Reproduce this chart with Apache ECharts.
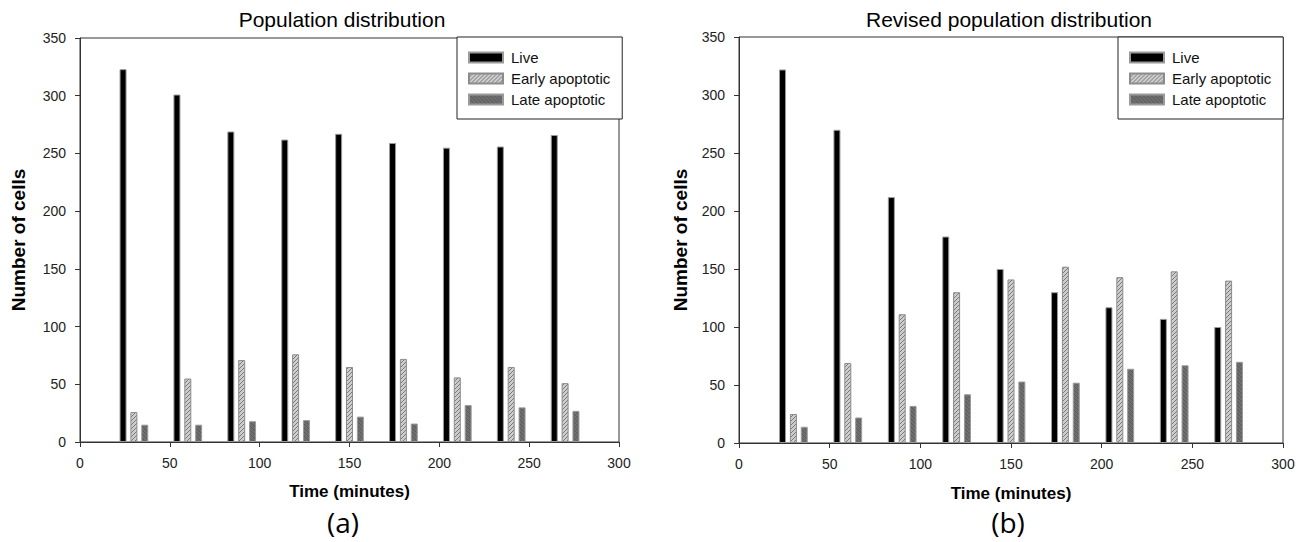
<!DOCTYPE html>
<html>
<head>
<meta charset="utf-8">
<script src="https://cdn.jsdelivr.net/npm/echarts@6/dist/echarts.min.js"></script>
<style>
html,body{margin:0;padding:0;background:#fff;}
#chart{width:1309px;height:542px;}
</style>
</head>
<body>
<div id="chart"></div>
<script>
// ---- data ----
const times = [30, 60, 90, 120, 150, 180, 210, 240, 270];
const seriesNames = ['Live', 'Early apoptotic', 'Late apoptotic'];
const liveA  = [323, 301, 269, 262, 267, 259, 255, 256, 266];
const earlyA = [26, 55, 71, 76, 65, 72, 56, 65, 51];
const lateA  = [15, 15, 18, 19, 22, 16, 32, 30, 27];
const liveB  = [322, 270, 212, 178, 150, 130, 117, 107, 100];
const earlyB = [25, 69, 111, 130, 141, 152, 143, 148, 140];
const lateB  = [14, 22, 32, 42, 53, 52, 64, 67, 70];
const titleA = 'Population distribution';
const titleB = 'Revised population distribution';
const xName = 'Time (minutes)';
const yName = 'Number of cells';
const panelA = '(a)';
const panelB = '(b)';

// ---- hatch patterns ----
function hatch(bg, fg, dir) {
  const c = document.createElement('canvas');
  c.width = 4; c.height = 4;
  const g = c.getContext('2d');
  g.fillStyle = bg; g.fillRect(0, 0, 4, 4);
  g.fillStyle = fg;
  for (let i = 0; i < 4; i++) {
    const x = dir > 0 ? 3 - i : i;
    g.fillRect(x, i, 1, 1);
  }
  return {image: c.toDataURL(), repeat: 'repeat', imageWidth: 4, imageHeight: 4};
}
const earlyFill = hatch('#cdcdcd', '#7a7a7a', 1);
const lateFill = hatch('#6e6e6e', '#5a5a5a', -1);

const font = "'Liberation Sans', Arial, sans-serif";
const styles = [
  {color: '#000', borderColor: '#9a9a9a', borderWidth: 1},
  {color: earlyFill, borderColor: '#8c8c8c', borderWidth: 1},
  {color: lateFill, borderColor: '#9a9a9a', borderWidth: 1}
];

function pairs(vals) { return times.map((t, i) => [t, vals[i]]); }

function makeSeries(idx, sets) {
  return sets.map((vals, k) => ({
    type: 'bar',
    name: seriesNames[k],
    xAxisIndex: idx, yAxisIndex: idx,
    data: pairs(vals),
    barWidth: 7,
    barGap: '55%',
    itemStyle: styles[k],
    emphasis: {disabled: true},
    animation: false
  }));
}

const grids = [
  {left: 80, top: 38, width: 539, height: 404},
  {left: 739, top: 37, width: 544, height: 406}
];

function xAx(i, gap) {
  return {
    type: 'value', gridIndex: i, min: 0, max: 300, interval: 50,
    name: xName, nameLocation: 'middle', nameGap: gap,
    nameTextStyle: {fontFamily: font, fontWeight: 'bold', fontSize: 17, color: '#000'},
    axisLine: {show: true, lineStyle: {color: '#333', width: 1}},
    axisTick: {show: true, length: 5, inside: false, lineStyle: {color: '#333'}},
    axisLabel: {fontFamily: font, fontSize: 14, color: '#222', margin: 14},
    splitLine: {show: false}
  };
}
function yAx(i, gap) {
  return {
    type: 'value', gridIndex: i, min: 0, max: 350, interval: 50,
    name: yName, nameLocation: 'middle', nameGap: gap,
    nameTextStyle: {fontFamily: font, fontWeight: 'bold', fontSize: 19, color: '#000'},
    axisLine: {show: true, lineStyle: {color: '#333', width: 1}},
    axisTick: {show: true, length: 5, inside: false, lineStyle: {color: '#333'}},
    axisLabel: {fontFamily: font, fontSize: 14, color: '#222', margin: 14},
    splitLine: {show: false}
  };
}
function legend(left, top) {
  return {
    orient: 'vertical', left: left, top: top,
    data: seriesNames,
    itemWidth: 34, itemHeight: 10, itemGap: 6,
    padding: [13, 12, 12, 11],
    borderColor: '#222', borderWidth: 1, backgroundColor: '#fff',
    textStyle: {fontFamily: font, fontSize: 15, lineHeight: 15, color: '#111', padding: [0, 0, 0, 3]},
    selectedMode: false,
    icon: 'rect'
  };
}

const chart = echarts.init(document.getElementById('chart'), null, {renderer: 'svg'});
chart.setOption({
  animation: false,
  backgroundColor: '#fff',
  grid: grids.map(g => Object.assign({show: true, borderColor: '#333', borderWidth: 1, backgroundColor: 'transparent'}, g)),
  xAxis: [xAx(0, 41), xAx(1, 42)],
  yAxis: [yAx(0, 52), yAx(1, 49)],
  legend: [legend(457, 37), legend(1118, 37)],
  graphic: [
    {type: 'text', x: 342, y: 19, style: {text: titleA, font: "21px 'Liberation Sans', Arial, sans-serif", fill: '#000', textAlign: 'center', textVerticalAlign: 'middle'}},
    {type: 'text', x: 1009, y: 19, style: {text: titleB, font: "21px 'Liberation Sans', Arial, sans-serif", fill: '#000', textAlign: 'center', textVerticalAlign: 'middle'}},
    {type: 'text', x: 343, y: 522, style: {text: panelA, font: "28px 'Open Sans', sans-serif", fill: '#000', textAlign: 'center', textVerticalAlign: 'middle'}},
    {type: 'text', x: 1008, y: 522, style: {text: panelB, font: "28px 'Open Sans', sans-serif", fill: '#000', textAlign: 'center', textVerticalAlign: 'middle'}}
  ],
  series: makeSeries(0, [liveA, earlyA, lateA]).concat(makeSeries(1, [liveB, earlyB, lateB]))
});
</script>
</body>
</html>
